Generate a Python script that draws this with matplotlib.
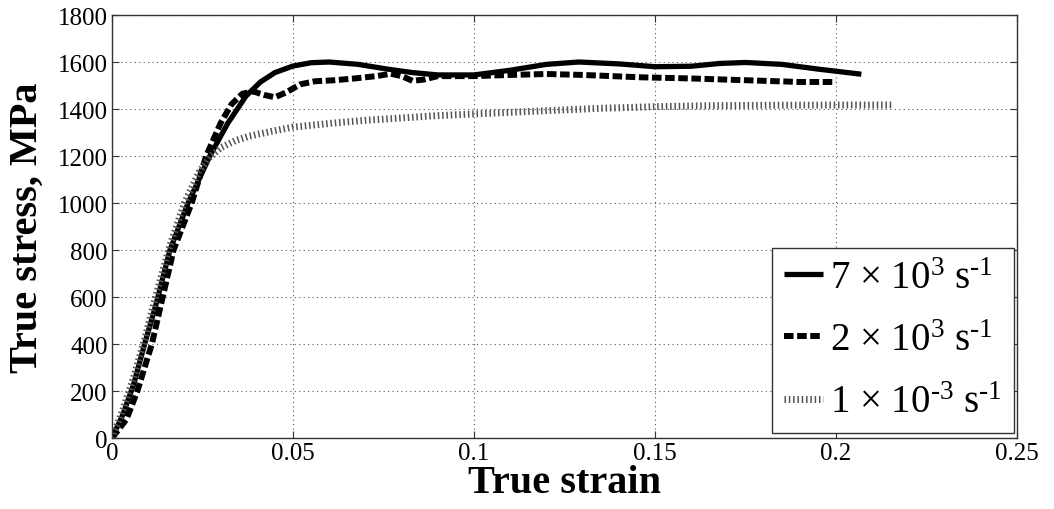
import matplotlib
matplotlib.use("Agg")
import matplotlib.pyplot as plt

plt.rcParams['font.family'] = ['Liberation Serif', 'DejaVu Serif']
plt.rcParams['mathtext.fontset'] = 'custom'
plt.rcParams['mathtext.rm'] = 'Liberation Serif'
plt.rcParams['mathtext.default'] = 'regular'

# 7e3 /s
strain_7e3 = [0, 0.003, 0.006, 0.009, 0.012, 0.016, 0.021, 0.027, 0.032, 0.037, 0.041, 0.045,
              0.050, 0.055, 0.060, 0.068, 0.076, 0.083, 0.090, 0.100, 0.110, 0.120, 0.129,
              0.140, 0.150, 0.160, 0.168, 0.175, 0.185, 0.195, 0.207]
stress_7e3 = [0, 100, 230, 400, 560, 800, 1000, 1200, 1340, 1455, 1515, 1555,
              1583, 1597, 1600, 1590, 1570, 1555, 1545, 1545, 1565, 1590, 1600,
              1592, 1580, 1582, 1594, 1598, 1590, 1570, 1548]
# 2e3 /s
strain_2e3 = [0, 0.004, 0.007, 0.011, 0.014, 0.017, 0.022, 0.026, 0.030, 0.033, 0.036, 0.039,
              0.042, 0.045, 0.048, 0.052, 0.056, 0.061, 0.067, 0.073, 0.077, 0.080, 0.083,
              0.086, 0.090, 0.100, 0.110, 0.120, 0.130, 0.146, 0.160, 0.170, 0.180, 0.190, 0.200]
stress_2e3 = [0, 80, 200, 400, 600, 800, 1000, 1200, 1340, 1420, 1465, 1475,
              1460, 1450, 1470, 1505, 1518, 1522, 1530, 1540, 1550, 1540, 1520,
              1525, 1540, 1540, 1545, 1549, 1545, 1535, 1530, 1525, 1520, 1515, 1515]
# 1e-3 /s
strain_1em3 = [0, 0.003, 0.006, 0.009, 0.012, 0.016, 0.020, 0.024, 0.027, 0.030, 0.034, 0.038,
               0.044, 0.050, 0.061, 0.070, 0.080, 0.090, 0.106, 0.120, 0.135, 0.150, 0.165,
               0.180, 0.201, 0.216]
stress_1em3 = [0, 120, 260, 420, 600, 820, 1000, 1130, 1195, 1235, 1265, 1285,
               1305, 1323, 1340, 1352, 1362, 1372, 1383, 1393, 1403, 1410, 1414,
               1416, 1417, 1417]

labels = [r'7 $\times$ 10$^{3}$ s$^{\text{-}1}$',
          r'2 $\times$ 10$^{3}$ s$^{\text{-}1}$',
          r'1 $\times$ 10$^{\text{-}3}$ s$^{\text{-}1}$']

xticks = [0, 0.05, 0.1, 0.15, 0.2, 0.25]
xticklabels = ['0', '0.05', '0.1', '0.15', '0.2', '0.25']
yticks = [0, 200, 400, 600, 800, 1000, 1200, 1400, 1600, 1800]

fig = plt.figure(figsize=(10.54, 5.10), dpi=100)
ax = fig.add_axes([0.1063, 0.1392, 0.8586, 0.8294])

ax.plot(strain_7e3, stress_7e3, color='black', lw=3.8, solid_capstyle='butt', label=labels[0])
ax.plot(strain_2e3, stress_2e3, color='black', lw=4.3, linestyle=(0, (1.6, 0.6)),
        dash_capstyle='butt', label=labels[1])
ax.plot(strain_1em3, stress_1em3, color='#555555', lw=5, linestyle=(0, (0.22, 0.4)),
        dash_capstyle='butt', label=labels[2])

ax.set_xlim(0, 0.25)
ax.set_ylim(0, 1800)
ax.set_xticks(xticks)
ax.set_xticklabels(xticklabels)
ax.set_yticks(yticks)
ax.tick_params(direction='in', length=5, width=0.8, labelsize=18, top=True, right=True,
               color='#333333', pad=3)
ax.grid(True, color='#555555', linestyle=(0, (1, 3)), linewidth=0.8)
for s in ax.spines.values():
    s.set_color('#333333')
    s.set_linewidth(1.0)

ax.set_xlabel('True strain', fontsize=29, fontweight='bold', labelpad=0)
ax.set_ylabel('True stress, MPa', fontsize=29, fontweight='bold', labelpad=9)

leg = ax.legend(loc='lower right', bbox_to_anchor=(0.9967, 0.012), borderaxespad=0,
                fontsize=28, handlelength=1.0, handletextpad=0.2, labelspacing=0.65,
                fancybox=False, framealpha=1, edgecolor='#333333', borderpad=0.3)
leg.get_frame().set_linewidth(1.0)

fig.savefig('out.png', dpi=100)
